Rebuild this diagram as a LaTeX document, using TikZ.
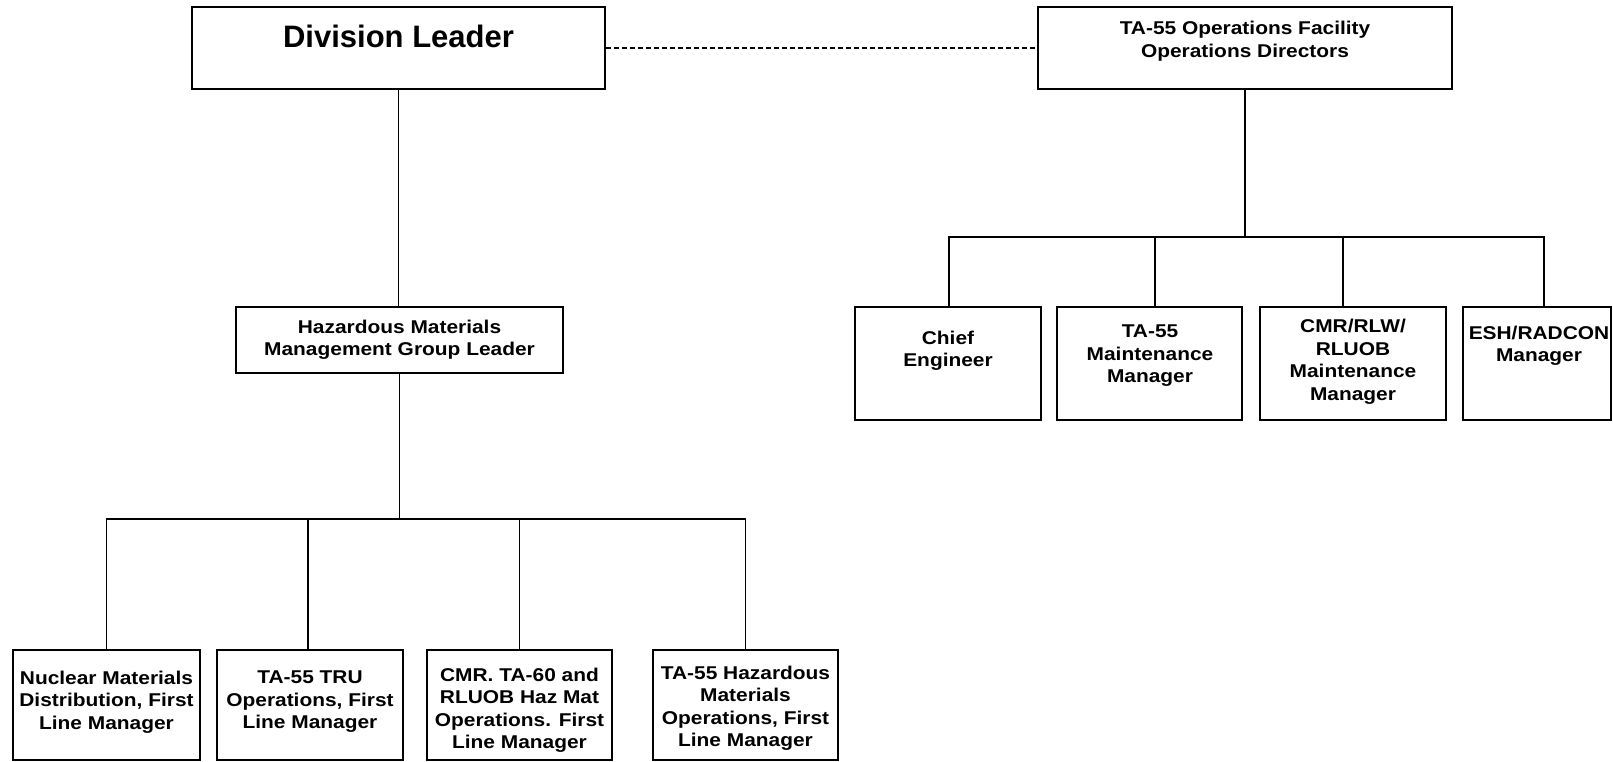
\documentclass[tikz,border=0pt]{standalone}
\usepackage{fontspec}
\newfontfamily\orgfont[FakeStretch=1.13]{Liberation Sans}
\newfontfamily\headfont{Liberation Sans}

\begin{document}
\begin{tikzpicture}[x=1pt,y=-1pt,
  box/.style={draw=black, line width=2pt, inner sep=0pt},
  boxtext/.style={align=center, inner sep=0pt, text=black,
    font=\orgfont\bfseries\fontsize{18.5}{22.5}\selectfont},
  bigtext/.style={inner sep=0pt, text=black,
    font=\headfont\bfseries\fontsize{31}{36}\selectfont},
  link/.style={draw=black, line width=1.7pt},
  dotted link/.style={link, dash pattern=on 5pt off 3pt}]

\useasboundingbox (0,0) rectangle (1613,762);

% top level
\node[box, minimum width=413pt, minimum height=82pt] (dl) at (398.5,48) {};
\node[bigtext] (dl-t) at (398.5,36) {Division Leader};

\node[box, minimum width=414pt, minimum height=82pt] (ops) at (1245,48) {};
\node[boxtext] (ops-t) at (1245,41) {TA-55 Operations Facility\\Operations Directors};

% group leader
\node[box, minimum width=327pt, minimum height=66pt] (hz) at (399.5,340) {};
\node[boxtext] (hz-t) at (399.5,340) {Hazardous Materials\\Management Group Leader};

% facility staff
\node[box, minimum width=186pt, minimum height=113pt] (ce) at (948,363.5) {};
\node[boxtext] (ce-t) at (948,351) {Chief\\Engineer};

\node[box, minimum width=185pt, minimum height=113pt] (tm) at (1149.5,363.5) {};
\node[boxtext] (tm-t) at (1150,356) {TA-55\\Maintenance\\Manager};

\node[box, minimum width=186pt, minimum height=113pt] (cmr) at (1353,363.5) {};
\node[boxtext] (cmr-t) at (1353,362) {CMR/RLW/\\RLUOB\\Maintenance\\Manager};

\node[box, minimum width=148pt, minimum height=113pt] (esh) at (1537,363.5) {};
\node[boxtext] (esh-t) at (1539,346) {ESH/RADCON\\Manager};

% first line managers
\node[box, minimum width=187pt, minimum height=110pt] (b1) at (106.5,705) {};
\node[boxtext] (b1-t) at (106.5,702) {Nuclear Materials\\Distribution, First\\Line Manager};

\node[box, minimum width=186pt, minimum height=110pt] (b2) at (310,705) {};
\node[boxtext] (b2-t) at (310,702) {TA-55 TRU\\Operations, First\\Line Manager};

\node[box, minimum width=185pt, minimum height=110pt] (b3) at (519.5,705) {};
\node[boxtext] (b3-t) at (519.5,710) {CMR. TA-60 and\\RLUOB Haz Mat\\Operations. First\\Line Manager};

\node[box, minimum width=185pt, minimum height=110pt] (b4) at (745.5,705) {};
\node[boxtext] (b4-t) at (745.5,708) {TA-55 Hazardous\\Materials\\Operations, First\\Line Manager};

% bus lines
\coordinate (rbus) at (1245,237);
\coordinate (lbus) at (399,519);

% connectors
\draw[dotted link] (dl.east) -- (ops.west);
\draw[link] (dl.south) -- (dl.south |- hz.north);

\draw[link] (ops.south) -- (rbus);
\draw[link] ([xshift=1pt]ce.north) |- ([xshift=7pt]esh.north |- rbus) -- ([xshift=7pt]esh.north);
\draw[link] ([xshift=5.5pt]tm.north) -- ([xshift=5.5pt]tm.north |- rbus);
\draw[link] ([xshift=-10pt]cmr.north) -- ([xshift=-10pt]cmr.north |- rbus);

\draw[link] (hz.south) -- (hz.south |- lbus);
\draw[link] (b1.north) |- (b4.north |- lbus) -- (b4.north);
\draw[link] ([xshift=-2pt]b2.north) -- ([xshift=-2pt]b2.north |- lbus);
\draw[link] (b3.north) -- (b3.north |- lbus);
\end{tikzpicture}
\end{document}
